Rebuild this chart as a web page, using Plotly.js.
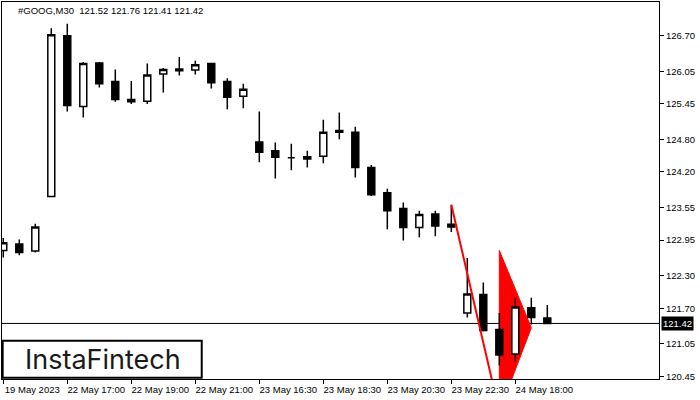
<!DOCTYPE html>
<html>
<head>
<meta charset="utf-8">
<script src="https://cdn.plot.ly/plotly-3.0.1.min.js"></script>
<style>html,body{margin:0;padding:0;background:#fff;}#chart{width:700px;height:400px;}</style>
</head>
<body>
<div id="chart"></div>
<script>
// ---- Data (GOOG, M30) ----
const opens  = [122.76,122.88,122.75,123.75,126.70,125.40,126.20,125.86,125.53,125.50,126.00,126.09,126.07,126.19,125.86,125.59,124.75,124.59,124.46,124.48,124.49,124.96,124.93,124.28,123.82,123.53,123.18,123.43,123.24,121.61,121.95,121.31,120.86,121.71,121.52];
const highs  = [122.99,122.96,123.25,126.84,126.92,126.22,126.22,126.08,125.87,126.19,126.11,126.31,126.24,126.20,125.92,125.82,125.31,124.74,124.72,124.59,125.16,125.29,125.03,124.33,123.89,123.64,123.49,123.49,123.60,122.62,122.17,121.61,121.89,121.89,121.76];
const lows   = [122.63,122.67,122.72,123.74,125.31,125.20,125.75,125.49,125.45,125.45,125.66,125.97,125.99,125.73,125.35,125.37,124.38,124.08,124.23,124.28,124.36,124.80,124.10,123.76,123.15,122.94,123.00,123.02,123.10,121.53,121.27,120.65,120.72,121.40,121.41];
const closes = [122.90,122.72,123.19,126.72,125.42,126.19,125.82,125.53,125.49,125.98,126.08,126.06,126.17,125.84,125.57,125.72,124.56,124.47,124.46,124.44,124.93,124.93,124.28,123.78,123.49,123.18,123.42,123.21,123.19,121.96,121.29,120.84,121.72,121.53,121.42];

const xTickIdx    = [0,4,8,12,16,20,24,28,32];
const xTickLabels = ["19 May 2023","22 May 17:00","22 May 19:00","22 May 21:00","23 May 16:30","23 May 18:30","23 May 20:30","23 May 22:30","24 May 18:00"];
const yTickVals   = [126.70,126.05,125.45,124.80,124.20,123.55,122.95,122.30,121.70,121.05,120.45];
const yTickLabels = ["126.70","126.05","125.45","124.80","124.20","123.55","122.95","122.30","121.70","121.05","120.45"];

const lastPrice = 121.42;
const titleText = "#GOOG,M30  121.52 121.76 121.41 121.42";

// Pennant pattern (pole + flag)
const poleX = [28, 31];
const poleY = [123.60, 119.80];
const flagX = [31, 33, 31];
const flagY = [122.76, 121.34, 119.80];

const idx = opens.map((_, i) => i);
const FONT = "Liberation Sans, Arial, sans-serif";
const FS = 9.5;

const flagPath = flagX.map((x, i) => (i ? 'L' : 'M') + x + ',' + flagY[i]).join(' ') + ' Z';

const traces = [
  {type:'candlestick', x:idx, open:opens, high:highs, low:lows, close:closes,
   increasing:{line:{color:'#000000', width:1.5}, fillcolor:'#ffffff'},
   decreasing:{line:{color:'#000000', width:1.5}, fillcolor:'#000000'},
   whiskerwidth:0, showlegend:false, hoverinfo:'skip'},
  {type:'scatter', mode:'lines', x:poleX, y:poleY, line:{color:'#ff0000', width:2},
   hoverinfo:'skip', showlegend:false}
];

const layout = {
  width:700, height:400,
  margin:{l:2, r:41, t:2, b:21, pad:0},
  paper_bgcolor:'#ffffff', plot_bgcolor:'#ffffff',
  showlegend:false,
  boxgap:0.38,
  font:{family:FONT, size:FS, color:'#000000'},
  title:{text:titleText, xref:'container', yref:'container', x:18/700, xanchor:'left',
         y:1-11/400, yanchor:'middle', font:{family:FONT, size:FS, color:'#000000'}},
  xaxis:{range:[-0.08, 40.98], showgrid:false, zeroline:false, showline:true, mirror:true,
         linecolor:'#000000', linewidth:1, ticks:'outside', ticklen:4, tickcolor:'#000000',
         tickvals:xTickIdx, ticktext:xTickLabels, ticklabelshift:29, ticklabelstandoff:-2,
         tickfont:{family:FONT, size:FS, color:'#000000'},
         rangeslider:{visible:false}, fixedrange:true},
  yaxis:{range:[120.40, 127.32], side:'right', showgrid:false, zeroline:false, showline:true,
         mirror:true, linecolor:'#000000', linewidth:1, ticks:'outside', ticklen:4,
         tickcolor:'#000000', tickvals:yTickVals, ticktext:yTickLabels,
         tickfont:{family:FONT, size:FS, color:'#000000'}, fixedrange:true},
  shapes:[
    {type:'path', xref:'x', yref:'y', path:flagPath, fillcolor:'#ff0000',
     line:{color:'#ff0000', width:1}, layer:'below'},
    {type:'line', xref:'paper', yref:'y', x0:0, x1:1, y0:lastPrice, y1:lastPrice,
     line:{color:'#000000', width:1}, layer:'below'},
    {type:'rect', xref:'paper', yref:'paper', x0:0.001, x1:0.304, y0:0.003, y1:0.1016,
     line:{color:'#000000', width:2}, fillcolor:'#ffffff', layer:'above'}
  ],
  annotations:[
    {xref:'paper', yref:'y', x:1, y:lastPrice, xanchor:'left', yanchor:'middle', xshift:2,
     text:lastPrice.toFixed(2), showarrow:false, bgcolor:'#000000', borderpad:1,
     font:{family:FONT, size:FS, color:'#ffffff'}},
    {xref:'paper', yref:'paper', x:0.154, y:0.053, xanchor:'center', yanchor:'middle',
     text:'InstaFintech', showarrow:false, font:{family:'Inter, Lato, sans-serif', size:27, color:'#1a1a1a'}}
  ]
};

Plotly.newPlot('chart', traces, layout, {staticPlot:true, displayModeBar:false});
</script>
</body>
</html>
